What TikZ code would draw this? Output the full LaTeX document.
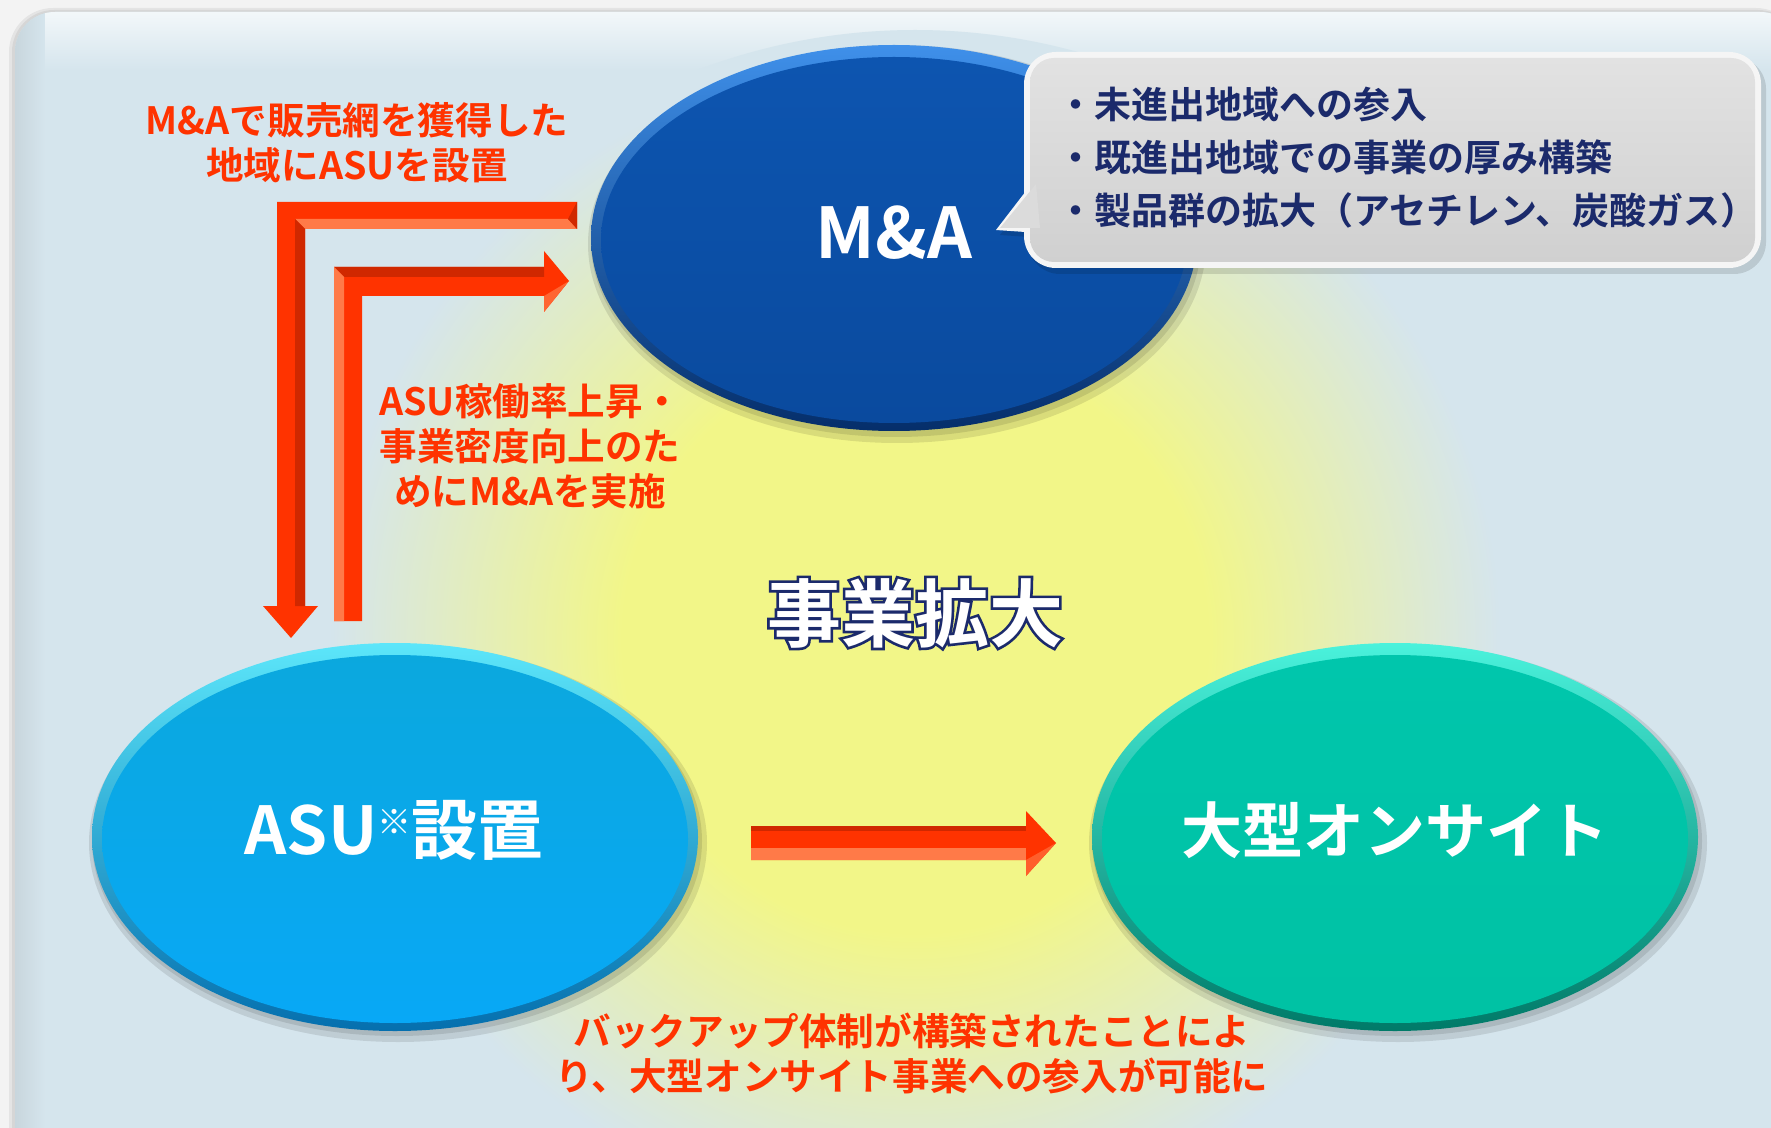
\documentclass[tikz,border=0pt]{standalone}
\usepackage{fontspec}
\newfontfamily\jpb{Noto Sans CJK JP Bold}
\usetikzlibrary{shapes.geometric}
\definecolor{outerbg}{HTML}{F3F3F3}
\definecolor{panelc}{HTML}{D5E5ED}
\definecolor{glowc}{HTML}{F2F688}
\definecolor{redtxt}{HTML}{FF3300}
\definecolor{navytxt}{HTML}{1B2A6B}
\definecolor{arrowc}{HTML}{FF3300}
\definecolor{arrowdark}{HTML}{D02800}
\definecolor{arrowlight}{HTML}{FF7A48}
\definecolor{marimt}{HTML}{3F90EA}
\definecolor{marimb}{HTML}{052E6A}
\definecolor{mafacet}{HTML}{0D55B0}
\definecolor{mafaceb}{HTML}{0A4A9E}
\definecolor{asurimt}{HTML}{5CE6FA}
\definecolor{asurimb}{HTML}{056FAE}
\definecolor{asufacet}{HTML}{0BA8DE}
\definecolor{asufaceb}{HTML}{08A8F6}
\definecolor{onrimt}{HTML}{4AF2DC}
\definecolor{onrimb}{HTML}{007A68}
\definecolor{onfacet}{HTML}{00C6AC}
\definecolor{onfaceb}{HTML}{00C2A4}
\definecolor{calloutt}{HTML}{E2E2E2}
\definecolor{calloutb}{HTML}{D0D0D0}
\pgfdeclareradialshading{glow}{\pgfpoint{0bp}{0bp}}{color(0bp)=(glowc); color(12bp)=(glowc); color(24bp)=(panelc); color(50bp)=(panelc)}
\tikzset{
  ellball/.style={ellipse, inner sep=0pt},
  redlabel/.style={text=redtxt, align=center, font=\jpb\fontsize{18.8pt}{22.5pt}\selectfont},
  balltext/.style={text=white, font=\jpb\fontsize{#1}{#1}\selectfont},
}
\begin{document}
\begin{tikzpicture}[x=0.5pt,y=-0.5pt]
\useasboundingbox (0,0) rectangle (1771,1128);
\fill[outerbg] (0,0) rectangle (1771,1128);
% panel shadow
\fill[black,opacity=0.06,rounded corners=22pt] (9,8) rectangle (1800,1170);
\fill[black,opacity=0.06,rounded corners=21pt] (12,10) rectangle (1800,1170);
\begin{scope}
  \clip[rounded corners=20pt] (15,12) rectangle (1800,1170);
  \fill[panelc] (0,0) rectangle (1771,1128);
  \shade[left color=panelc!85!gray, right color=panelc] (15,0) rectangle (45,1128);
  \shade[top color=white!70!panelc, bottom color=panelc] (45,12) rectangle (1771,70);
  \shade[shading=glow] (915,640) circle [radius=610];
\end{scope}
% ---------- ellipses ----------
\foreach \cx/\cy/\nm in {894/238/ma, 395/837/asu, 1395/837/on}{
  \node[ellball, fill=black, opacity=0.10, minimum width=309pt, minimum height=199pt] (sh1\nm) at (\cx+3,\cy+6) {};
  \node[ellball, fill=black, opacity=0.10, minimum width=305pt, minimum height=195pt] (sh2\nm) at (\cx+2,\cy+4) {};
}
\node[ellball, top color=marimt, bottom color=marimb, minimum width=303pt, minimum height=193pt] (marim) at (894,238) {};
\node[ellball, top color=mafacet, bottom color=mafaceb, minimum width=293pt, minimum height=183pt] (maface) at (894,240) {};
\node[ellball, top color=asurimt, bottom color=asurimb, minimum width=303pt, minimum height=194pt] (asurim) at (395,837) {};
\node[ellball, top color=asufacet, bottom color=asufaceb, minimum width=293pt, minimum height=184pt] (asuface) at (395,839) {};
\node[ellball, top color=onrimt, bottom color=onrimb, minimum width=303pt, minimum height=194pt] (onrim) at (1395,837) {};
\node[ellball, top color=onfacet, bottom color=onfaceb, minimum width=293pt, minimum height=184pt] (onface) at (1395,839) {};
\node[balltext=35pt] (matext) at (894,233) {M\&A};
\node[balltext=33pt] (asutext) at (394,830) {ASU{\fontsize{17pt}{17pt}\selectfont\raisebox{10pt}{※}}設置};
\node[balltext=30.5pt] (ontext) at (1395,830) {大型オンサイト};
% ---------- callout ----------
\fill[black,opacity=0.12,rounded corners=16pt] (1028,57) rectangle (1766,274);
\fill[black,opacity=0.12] (1000,235)--(1040,184)--(1044,238)--cycle;
\fill[white!92!gray,rounded corners=16pt] (1024,52) rectangle (1761,268);
\fill[white!92!gray] (996,230)--(1036,178)--(1040,233)--cycle;
\shade[top color=calloutt, bottom color=calloutb, rounded corners=12pt] (1030,58) rectangle (1755,262);
\fill[calloutt!60!calloutb] (1000,228)--(1036,184)--(1040,228)--cycle;
\node[anchor=west, align=left, text=navytxt, font=\jpb\fontsize{18.5pt}{26.5pt}\selectfont] (callout) at (1050,158)
  {・未進出地域への参入\\・既進出地域での事業の厚み構築\\・製品群の拡大（アセチレン、炭酸ガス）};
% ---------- arrows ----------
% outer L arrow (to ASU)
\coordinate (o1) at (577,202);
\fill[arrowc] (o1) -- (277,202) -- (277,606) -- (263,606) -- (291,638) -- (318,606) -- (305,606) -- (305,229) -- (577,229) -- cycle;
\fill[arrowlight] (295,219) -- (568,219) -- (577,229) -- (305,229) -- cycle;
\fill[arrowdark] (295,219) -- (305,229) -- (305,606) -- (295,606) -- cycle;
\fill[arrowdark] (568,219) -- (577,202) -- (577,229) -- cycle;
% inner L arrow (to M&A)
\coordinate (i1) at (334,621);
\fill[arrowc] (i1) -- (334,267) -- (544,267) -- (544,251) -- (569,281) -- (544,312) -- (544,296) -- (362,296) -- (362,621) -- cycle;
\fill[arrowdark] (334,267) -- (544,267) -- (544,277) -- (344,277) -- cycle;
\fill[arrowlight] (334,267) -- (344,277) -- (344,621) -- (334,621) -- cycle;
\fill[arrowlight!70!arrowc] (544,296) -- (569,281) -- (544,312) -- cycle;
% horizontal arrow ASU -> onsite
\coordinate (h1) at (751,826);
\fill[arrowc] (h1) -- (1026,826) -- (1026,811) -- (1056,843) -- (1026,876) -- (1026,860) -- (751,860) -- cycle;
\fill[arrowlight] (751,848) -- (1026,848) -- (1026,860) -- (751,860) -- cycle;
\fill[arrowdark] (751,826) -- (1026,826) -- (1026,831) -- (751,831) -- cycle;
\fill[arrowlight!60!arrowc] (1026,860) -- (1056,843) -- (1026,876) -- cycle;
% ---------- labels ----------
\node[redlabel] (lab1) at (357,143) {M\&Aで販売網を獲得した\\地域にASUを設置};
\node[redlabel] (lab2) at (530,446) {ASU稼働率上昇・\\事業密度向上のた\\めにM\&Aを実施};
\node[redlabel] (lab3) at (912,1053) {バックアップ体制が構築されたことによ\\り、大型オンサイト事業への参入が可能に};
% ---------- center outlined text ----------
\node[text=white, font=\jpb\fontsize{37pt}{37pt}\selectfont] (center) at (915,613)
  {\rlap{\special{pdf:literal direct 1 Tr 2.6 w 0.106 0.165 0.42 RG}事業拡大\special{pdf:literal direct 0 Tr}}事業拡大};
\end{tikzpicture}
\end{document}
